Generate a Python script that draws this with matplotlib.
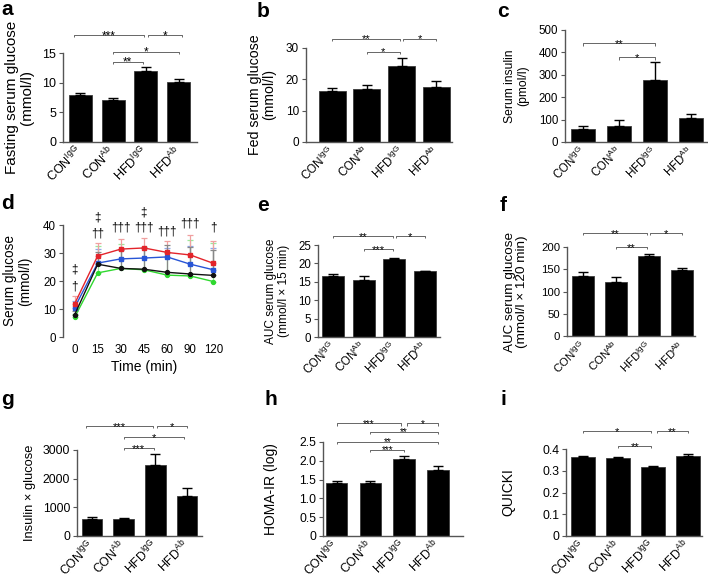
import matplotlib
matplotlib.use('Agg')
import matplotlib.pyplot as plt
import numpy as np

plt.rcParams['font.family'] = ['Liberation Sans', 'DejaVu Sans']
plt.rcParams['mathtext.fontset'] = 'custom'
plt.rcParams['mathtext.rm'] = 'Liberation Sans'
plt.rcParams['mathtext.it'] = 'Liberation Sans:italic'
plt.rcParams['mathtext.bf'] = 'Liberation Sans:bold'

# ---------------- data ----------------
groups = ['CON$^{\\mathrm{IgG}}$', 'CON$^{\\mathrm{Ab}}$', 'HFD$^{\\mathrm{IgG}}$', 'HFD$^{\\mathrm{Ab}}$']

fasting_mean = [8.0, 7.1, 12.0, 10.1]
fasting_err = [0.3, 0.4, 0.7, 0.6]
fed_mean = [16.3, 16.8, 24.2, 17.7]
fed_err = [0.9, 1.5, 2.5, 1.7]
insulin_mean = [57, 70, 278, 105]
insulin_err = [15, 27, 78, 22]
auc15_mean = [16.6, 15.5, 21.3, 17.8]
auc15_err = [0.4, 1.1, 0.15, 0.15]
auc120_mean = [135, 122, 179, 149]
auc120_err = [9, 10, 5, 4]
ixg_mean = [600, 590, 2460, 1410]
ixg_err = [50, 50, 400, 250]
homa_mean = [1.42, 1.42, 2.05, 1.76]
homa_err = [0.05, 0.04, 0.07, 0.09]
quicki_mean = [0.365, 0.360, 0.317, 0.368]
quicki_err = [0.004, 0.003, 0.003, 0.010]

times = ['0', '15', '30', '45', '60', '90', '120']
gtt_hfd_igg = [11.8, 29.0, 31.4, 31.8, 30.2, 29.3, 26.3]
gtt_hfd_igg_err = [2.8, 4.7, 3.6, 3.7, 4.1, 7.1, 8.1]
gtt_hfd_ab = [10.5, 26.4, 27.9, 28.2, 28.6, 26.0, 24.0]
gtt_hfd_ab_err = [2.5, 4.9, 3.5, 3.5, 3.3, 6.6, 7.7]
gtt_con_igg = [7.9, 26.0, 24.5, 24.2, 23.1, 22.5, 22.0]
gtt_con_igg_err = [1.5, 4.5, 6.5, 7.5, 9.8, 9.8, 9.0]
gtt_con_ab = [7.0, 22.9, 24.5, 24.0, 22.1, 21.8, 19.8]
gtt_con_ab_err = [1.2, 9.6, 8.7, 8.0, 8.0, 13.0, 13.7]
gtt_marks = [['\u2020', '\u2021'], ['\u2020\u2020', '\u2021'], ['\u2020\u2020\u2020'],
             ['\u2020\u2020\u2020', '\u2021'], ['\u2020\u2020\u2020'], ['\u2020\u2020\u2020'], ['\u2020']]

W, H = 708, 575
fig = plt.figure(figsize=(W / 100, H / 100), dpi=100)


def box(l, t, r, b):
    return [l / W, 1 - b / H, (r - l) / W, (b - t) / H]


SPINE = '#555555'


def style(ax, tfs):
    for s in ['top', 'right']:
        ax.spines[s].set_visible(False)
    for s in ['left', 'bottom']:
        ax.spines[s].set_color(SPINE)
        ax.spines[s].set_linewidth(1.0)
    ax.tick_params(axis='y', length=3, width=0.8, color=SPINE, labelsize=tfs, pad=2)


def bracket(ax, x1, x2, y, txt, h, afs):
    ax.plot([x1, x1, x2, x2], [y - h, y, y, y - h], color='#666666', lw=0.7,
            clip_on=False, solid_capstyle='butt')
    ax.annotate(txt, xy=((x1 + x2) / 2, y), xytext=(0, -afs * 0.34), textcoords='offset points',
                ha='center', va='baseline', fontsize=afs, annotation_clip=False)


def bar_panel(rect, xlim, bw, means, errs, ymax, yticks, yticklabels, ylabel, fs, tfs, lpad,
              brs, afs, letter, lpos):
    ax = fig.add_axes(box(*rect))
    x = np.arange(len(means))
    ax.bar(x, means, width=bw, color='black', edgecolor='#3a3a3a', lw=0.6, zorder=2)
    ax.errorbar(x, means, yerr=[np.zeros(len(errs)), errs], fmt='none', ecolor='black',
                elinewidth=1.0, capsize=3.5, capthick=1.0, zorder=3)
    ax.set_xlim(*xlim)
    ax.set_ylim(0, ymax)
    ax.set_yticks(yticks)
    ax.set_yticklabels(yticklabels)
    style(ax, tfs)
    ax.set_xticks(x)
    ax.set_xticklabels(groups, rotation=45, ha='right', va='center', rotation_mode='anchor',
                       fontsize=tfs)
    ax.tick_params(axis='x', length=0, pad=5)
    ax.set_ylabel(ylabel, fontsize=fs, labelpad=lpad, linespacing=1.05)
    for (x1, x2, y, t) in brs:
        bracket(ax, x1, x2, y, t, ymax * 0.025, afs)
    fig.text(lpos[0] / W, 1 - lpos[1] / H, letter, fontsize=15, fontweight='bold', va='top', ha='left')
    return ax


# a
bar_panel((63, 53, 197, 142), (-0.52, 3.55), 0.7, fasting_mean, fasting_err, 15, [0, 5, 10, 15],
          ['0', '5', '10', '15'], 'Fasting serum glucose\n(mmol/l)', 11.0, 9.0, 6,
          [(-0.2, 1.94, 18.0, '***'), (2.06, 3.1, 18.0, '*'), (1.0, 3.0, 15.2, '*'), (1.0, 1.9, 13.5, '**')],
          8.5, 'a', (1, 0))
# b
bar_panel((306, 48, 452, 142), (-0.75, 3.45), 0.78, fed_mean, fed_err, 30, [0, 10, 20, 30],
          ['0', '10', '20', '30'], 'Fed serum glucose\n(mmol/l)', 10.2, 8.5, 7,
          [(0.0, 1.95, 33.0, '**'), (2.05, 3.0, 33.0, '*'), (1.0, 1.95, 28.8, '*')],
          8.0, 'b', (257, 2))
# c
bar_panel((565, 30, 707, 142), (-0.51, 3.45), 0.68, insulin_mean, insulin_err, 500,
          [0, 100, 200, 300, 400, 500], ['0', '100', '200', '300', '400', '500'],
          'Serum insulin\n(pmol/l)', 8.7, 8.3, 7,
          [(0.0, 2.0, 441, '**'), (1.0, 2.0, 379, '*')],
          8.0, 'c', (497, 2))
# e
bar_panel((318, 245, 440, 337), (-0.5, 3.5), 0.72, auc15_mean, auc15_err, 25,
          [0, 5, 10, 15, 20, 25], ['0', '5', '10', '15', '20', '25'],
          'AUC serum glucose\n(mmol/l \u00d7 15 min)', 8.6, 8.3, 6,
          [(0.0, 1.95, 27.4, '**'), (2.05, 3.0, 27.4, '*'), (1.0, 1.95, 23.9, '***')],
          8.0, 'e', (257, 196))
# f
bar_panel((567, 247, 695, 336), (-0.48, 3.4), 0.67, auc120_mean, auc120_err, 200,
          [0, 50, 100, 150, 200], ['0', '50', '100', '150', '200'],
          'AUC serum glucose\n(mmol/l \u00d7 120 min)', 9.7, 8.2, 9,
          [(0.0, 1.95, 231, '**'), (2.05, 3.0, 231, '*'), (1.0, 1.95, 200, '**')],
          8.0, 'f', (500, 196))
# g
bar_panel((77, 450, 202, 536), (-0.47, 3.47), 0.65, ixg_mean, ixg_err, 3000,
          [0, 1000, 2000, 3000], ['0', '1000', '2000', '3000'],
          'Insulin \u00d7 glucose', 9.3, 8.8, 5,
          [(-0.2, 1.94, 3840, '***'), (2.06, 3.0, 3840, '*'), (1.0, 2.9, 3455, '*'), (1.0, 1.95, 3070, '***')],
          8.0, 'g', (1, 390))
# h
bar_panel((323, 442, 463, 536), (-0.4, 3.74), 0.64, homa_mean, homa_err, 2.5,
          [0, 0.5, 1.0, 1.5, 2.0, 2.5], ['0', '0.5', '1.0', '1.5', '2.0', '2.5'],
          'HOMA-IR (log)', 10.0, 8.8, 15,
          [(0.0, 1.92, 3.0, '***'), (2.08, 3.0, 3.0, '*'), (1.0, 3.0, 2.77, '**'),
           (0.0, 3.0, 2.5, '**'), (1.0, 2.0, 2.29, '***')],
          7.2, 'h', (264, 390))
# i
bar_panel((566, 449, 702, 536), (-0.49, 3.4), 0.69, quicki_mean, quicki_err, 0.4,
          [0, 0.1, 0.2, 0.3, 0.4], ['0', '0.1', '0.2', '0.3', '0.4'],
          'QUICKI', 10.0, 8.8, 19,
          [(0.0, 1.95, 0.483, '*'), (2.1, 3.0, 0.483, '**'), (1.0, 1.95, 0.414, '**')],
          8.0, 'i', (501, 390))

# d
axd = fig.add_axes(box(63, 225, 225, 337))
xt = np.arange(len(times))
series = [
    (gtt_con_ab, gtt_con_ab_err, '#2fd82f', '#9be89b', 'o'),
    (gtt_hfd_ab, gtt_hfd_ab_err, '#2855d6', '#8fa8e8', 's'),
    (gtt_hfd_igg, gtt_hfd_igg_err, '#e3242b', '#f0a0a0', 's'),
    (gtt_con_igg, gtt_con_igg_err, '#111111', '#888888', 'o'),
]
for k, (m, e, c, ec, mk) in enumerate(series):
    axd.errorbar(xt, m, yerr=[np.zeros(len(e)), e], fmt='none', ecolor=ec, elinewidth=0.9,
                 capsize=2, capthick=0.9, zorder=2 + k)
    axd.plot(xt, m, color=c, lw=1.0, marker=mk, ms=2.8, zorder=6 + k)
axd.set_xlim(-0.5, 6.5)
axd.set_ylim(0, 40)
axd.set_yticks([0, 10, 20, 30, 40])
style(axd, 8.3)
axd.spines['bottom'].set_visible(False)
axd.set_xticks(xt)
axd.set_xticklabels(times, fontsize=8.3)
axd.tick_params(axis='x', length=0, pad=5)
axd.set_xlabel('Time (min)', fontsize=10, labelpad=3)
axd.set_ylabel('Serum glucose\n(mmol/l)', fontsize=9.8, labelpad=8, linespacing=1.05)
mark_y = [[17.9, 24.0], [37.0, 42.5], [39.0], [39.0, 44.6], [37.5], [40.7], [39.0]]
for i, (ms_, ys) in enumerate(zip(gtt_marks, mark_y)):
    for t, y in zip(ms_, ys):
        axd.text(i, y, t, ha='center', va='center', fontsize=8.5, clip_on=False)
fig.text(1 / W, 1 - 194 / H, 'd', fontsize=15, fontweight='bold', va='top', ha='left')

fig.savefig('out.png', dpi=100)
